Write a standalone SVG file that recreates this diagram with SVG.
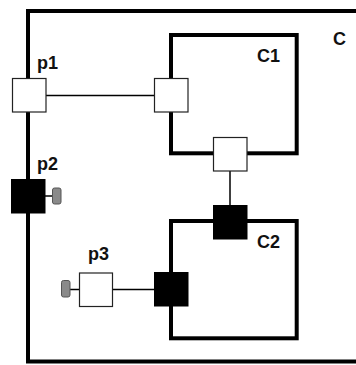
<svg xmlns="http://www.w3.org/2000/svg" width="356" height="365" viewBox="0 0 356 365">
<style>
.box{fill:none;stroke:#000;stroke-width:4}
.pw{fill:#fff;stroke:#222;stroke-width:1.2}
.pb{fill:#000;stroke:#000;stroke-width:1}
.knob{fill:#8a8a8a;stroke:#555;stroke-width:1}
.ln{stroke:#000;stroke-width:1.5;fill:none}
text{font-family:"Liberation Sans",Arial,sans-serif;font-weight:bold;font-size:18px;fill:#111}
</style>
<rect width="356" height="365" fill="#fff"/>
<g id="C">
<rect class="box" x="28" y="11" width="340" height="350.5"/>
<text x="333" y="45" font-size="19">C</text>
</g>
<g id="C1">
<rect class="box" x="171" y="35" width="125.7" height="118.3"/>
<text x="257" y="62" font-size="19">C1</text>
</g>
<g id="C2">
<rect class="box" x="171" y="221" width="125.7" height="117.3"/>
<text x="257" y="248" font-size="19">C2</text>
</g>
<g id="connectors">
<line class="ln" x1="46" y1="95.5" x2="154" y2="95.5"/>
<line class="ln" x1="230" y1="171" x2="230" y2="205"/>
<line class="ln" x1="113" y1="289.5" x2="154" y2="289.5"/>
<line class="ln" x1="45" y1="196" x2="52" y2="196"/>
<line class="ln" x1="70" y1="289.5" x2="79" y2="289.5"/>
</g>
<g id="p1">
<rect class="pw" x="12.5" y="78.5" width="33.5" height="33.5"/>
<text x="37" y="68.5">p1</text>
</g>
<g id="C1_left">
<rect class="pw" x="154.5" y="78.5" width="33.5" height="33.5"/>
</g>
<g id="C1_bottom">
<rect class="pw" x="213.5" y="137.5" width="33.5" height="33.5"/>
</g>
<g id="p2">
<rect class="pb" x="11.5" y="179.5" width="33.5" height="33.5"/>
<rect class="knob" x="52.5" y="188" width="8.5" height="16" rx="2"/>
<text x="37" y="170">p2</text>
</g>
<g id="C2_top">
<rect class="pb" x="213.5" y="205.5" width="33.5" height="33.5"/>
</g>
<g id="C2_left">
<rect class="pb" x="154.5" y="272.5" width="33.5" height="33.5"/>
</g>
<g id="p3">
<rect class="pw" x="79.5" y="273" width="33" height="33.5"/>
<rect class="knob" x="61.5" y="280.5" width="8.5" height="16.5" rx="2"/>
<text x="88" y="260">p3</text>
</g>
</svg>
